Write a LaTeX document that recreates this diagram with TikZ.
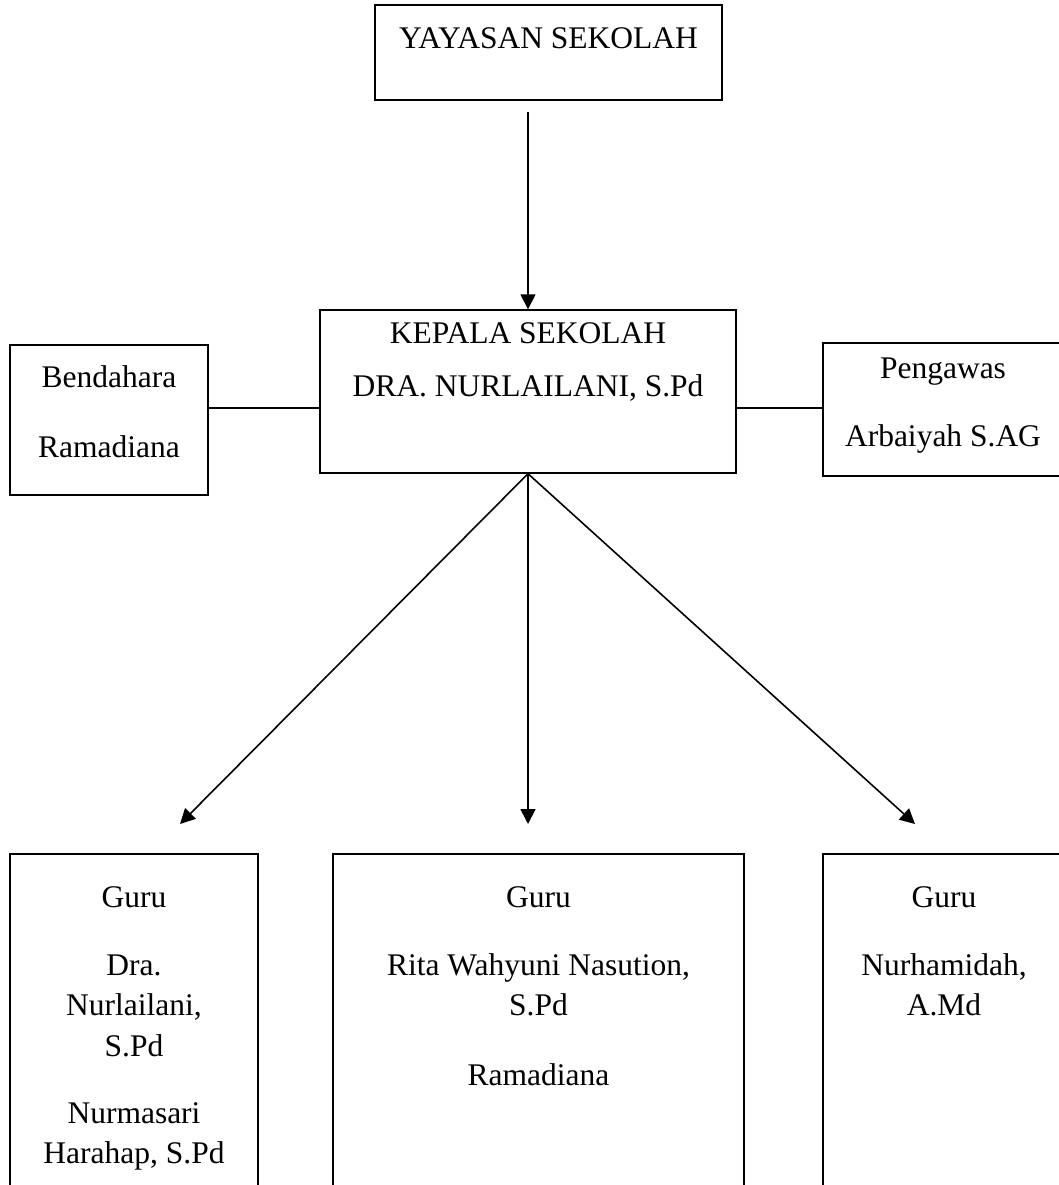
\documentclass[tikz,border=0pt]{standalone}
\usepackage{fontspec}
\setmainfont{Liberation Serif}
\usepackage{tikz}
\usetikzlibrary{arrows.meta, positioning}

\begin{document}
\begin{tikzpicture}[
    x=1pt, y=-1pt,
    box/.style={draw, line width=1.4pt, inner sep=0pt},
    txt/.style={inner sep=0pt, anchor=base, font=\fontsize{31.5}{38}\selectfont},
    link/.style={line width=1.6pt},
    arrow/.style={line width=1.6pt, -{Triangle[length=15pt, width=15pt]}}
]
    \useasboundingbox (0,0) rectangle (1059,1185);
    \clip (0,0) rectangle (1059,1185);

    % Top boxes
    \node[box, minimum width=347pt, minimum height=95pt] (yayasan) at (548.5,52.5) {};
    \node[box, minimum width=416pt, minimum height=163pt] (kepala) at (528,391.5) {};
    \node[box, minimum width=198pt, minimum height=150pt] (bendahara) at (109,420) {};
    \node[box, minimum width=242pt, minimum height=133pt] (pengawas) at (944,409.5) {};

    % Bottom boxes (open below)
    \node[box, minimum width=248pt, minimum height=366pt] (guruA) at (134,1037) {};
    \node[box, minimum width=411pt, minimum height=366pt] (guruB) at (538.5,1037) {};
    \node[box, minimum width=242pt, minimum height=366pt] (guruC) at (944,1037) {};

    % Texts
    \node[txt] (tYayasan) at (548.5,49) {YAYASAN SEKOLAH};
    \node[txt] (tKepala) at (528,343) {KEPALA SEKOLAH};
    \node[txt] (tKepalaNama) at (528,396) {DRA. NURLAILANI, S.Pd};
    \node[txt] (tBendahara) at (109,387) {Bendahara};
    \node[txt] (tBendaharaNama) at (109,457) {Ramadiana};
    \node[txt] (tPengawas) at (943,378) {Pengawas};
    \node[txt] (tPengawasNama) at (943,446) {Arbaiyah S.AG};

    \node[txt] (tGuruA) at (134,907) {Guru};
    \node[txt] (tGuruA1) at (134,975) {Dra.};
    \node[txt] (tGuruA2) at (134,1015) {Nurlailani,};
    \node[txt] (tGuruA3) at (134,1056) {S.Pd};
    \node[txt] (tGuruA4) at (134,1123) {Nurmasari};
    \node[txt] (tGuruA5) at (134,1163) {Harahap, S.Pd};

    \node[txt] (tGuruB) at (538.5,907) {Guru};
    \node[txt] (tGuruB1) at (538.5,975) {Rita Wahyuni Nasution,};
    \node[txt] (tGuruB2) at (538.5,1015) {S.Pd};
    \node[txt] (tGuruB3) at (538.5,1085) {Ramadiana};

    \node[txt] (tGuruC) at (944,907) {Guru};
    \node[txt] (tGuruC1) at (944,975) {Nurhamidah,};
    \node[txt] (tGuruC2) at (944,1015) {A.Md};

    % Connectors
    \coordinate (ytop) at (528,112);
    \coordinate (side) at (0,408);
    \coordinate (endA) at (180,824);
    \coordinate (endB) at (528,824);
    \coordinate (endC) at (915,824);

    \draw[arrow] (ytop) -- (kepala.north);
    \draw[link] (bendahara.east |- side) -- (kepala.west |- side);
    \draw[link] (kepala.east |- side) -- (pengawas.west |- side);
    \draw[arrow] (kepala.south) -- (endA);
    \draw[arrow] (kepala.south) -- (endB);
    \draw[arrow] (kepala.south) -- (endC);
\end{tikzpicture}
\end{document}
